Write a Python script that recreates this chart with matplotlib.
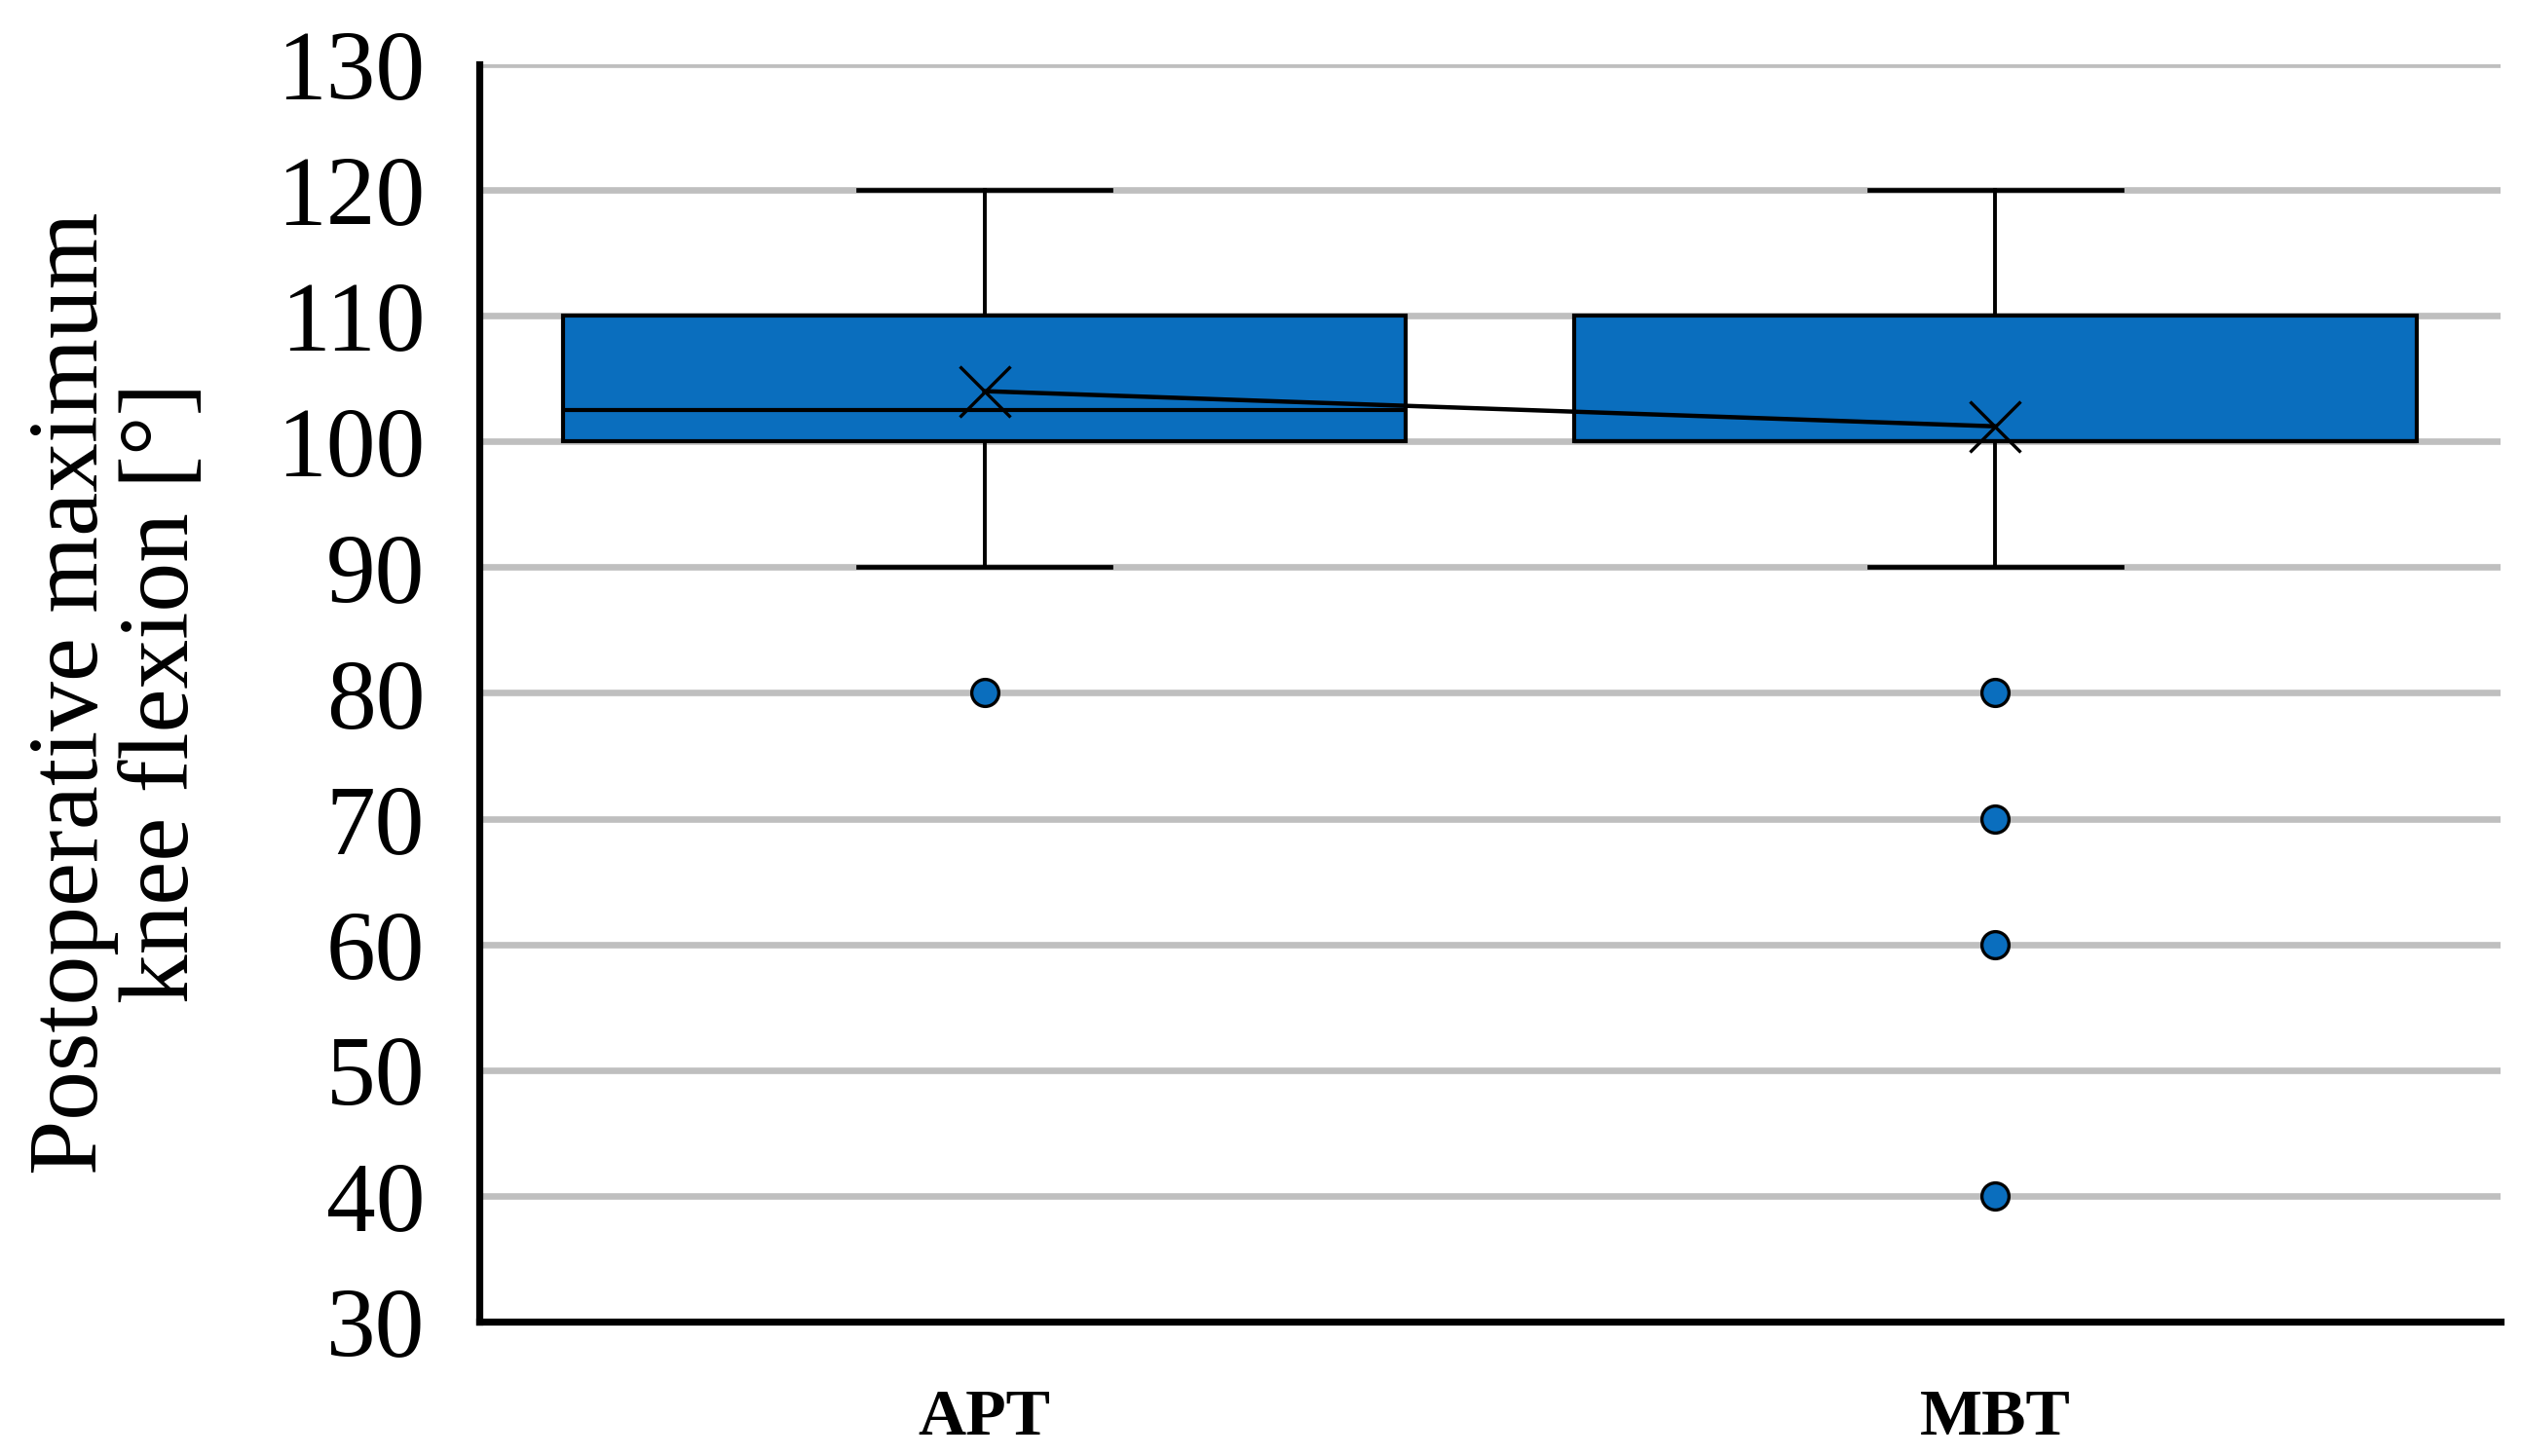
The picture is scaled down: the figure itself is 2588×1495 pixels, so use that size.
import matplotlib
matplotlib.use("Agg")
import matplotlib.pyplot as plt
from matplotlib import font_manager

# Data
GROUPS = ["APT", "MBT"]
Q1 = [100, 100]
MEDIANS = [102.5, 100]
Q3 = [110, 110]
WHISK_LO = [90, 90]
WHISK_HI = [120, 120]
MEANS = [104.0, 101.2]
FLIERS = [[80], [80, 70, 60, 40]]

Y_TICKS = list(range(30, 131, 10))

BOX_COLOR = "#0A6EBE"
GRID_COLOR = "#BFBFBF"


def pick_serif() -> str:
    names = {f.name for f in font_manager.fontManager.ttflist}
    for cand in ("Liberation Serif", "Times New Roman", "Nimbus Roman",
                 "Tinos", "FreeSerif", "Noto Serif"):
        if cand in names:
            return cand
    return "DejaVu Serif"


SERIF = pick_serif()
plt.rcParams["font.family"] = [SERIF, "DejaVu Serif"]


def main() -> None:
    fig = plt.figure(figsize=(25.88, 14.95), dpi=100)
    ax = fig.add_axes([0.190, 0.0923, 0.802, 0.8636])

    stats = []
    for i, name in enumerate(GROUPS):
        stats.append(
            dict(
                label=name,
                q1=Q1[i],
                med=MEDIANS[i],
                q3=Q3[i],
                whislo=WHISK_LO[i],
                whishi=WHISK_HI[i],
                mean=MEANS[i],
                fliers=FLIERS[i],
            )
        )

    positions = list(range(1, len(GROUPS) + 1))
    ax.bxp(
        stats,
        positions=positions,
        widths=0.834,
        capwidths=0.25,
        showmeans=True,
        meanline=False,
        patch_artist=True,
        boxprops=dict(facecolor=BOX_COLOR, edgecolor="black", linewidth=3.0),
        whiskerprops=dict(color="black", linewidth=2.8),
        capprops=dict(color="black", linewidth=3.4),
        medianprops=dict(color="black", linewidth=3.0),
        meanprops=dict(marker="x", markersize=38, markerfacecolor="none",
                       markeredgecolor="black", markeredgewidth=2.4),
        flierprops=dict(marker="o", markersize=20, markerfacecolor=BOX_COLOR,
                        markeredgecolor="black", markeredgewidth=2.4),
        zorder=3,
    )

    # line joining the means
    ax.plot(positions, MEANS, color="black", linewidth=3.2, zorder=4)

    ax.set_xlim(0.5, len(GROUPS) + 0.5)
    ax.set_ylim(30, 130)
    ax.set_yticks(Y_TICKS)
    ax.set_xticks(positions)
    ax.set_xticklabels(GROUPS, fontsize=49, fontweight="bold")
    ax.tick_params(axis="y", length=0, pad=40, labelsize=73)
    ax.tick_params(axis="x", length=0, pad=50)

    ax.grid(axis="y", color=GRID_COLOR, linewidth=4.8)
    ax.grid(axis="x", visible=False)
    ax.set_axisbelow(True)

    for side in ("top", "right"):
        ax.spines[side].set_visible(False)
    for side in ("left", "bottom"):
        ax.spines[side].set_linewidth(5.2)
        ax.spines[side].set_color("black")
        ax.spines[side].set_capstyle("projecting")

    ax.text(-0.178, 0.5, "Postoperative maximum\nknee flexion [°]",
            transform=ax.transAxes, rotation=90, ha="center", va="center",
            fontsize=73, linespacing=1.02, multialignment="center")

    fig.savefig("out.png", dpi=100)
    plt.close(fig)


if __name__ == "__main__":
    main()
